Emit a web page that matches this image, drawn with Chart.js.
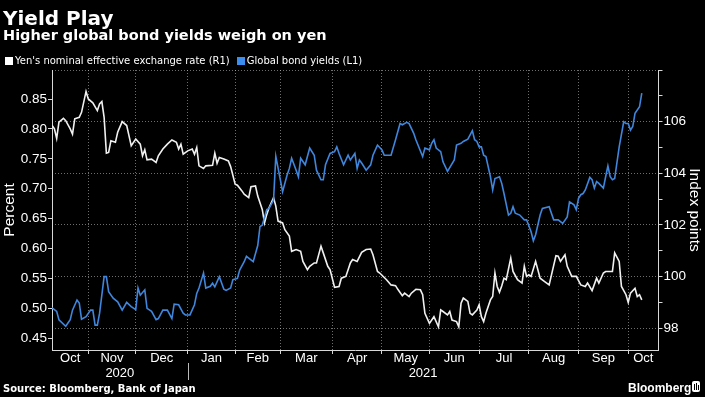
<!DOCTYPE html>
<html><head><meta charset="utf-8">
<script src="https://cdn.jsdelivr.net/npm/chart.js"></script>
<style>
html,body{margin:0;padding:0;background:#000;}
#wrap{position:relative;width:705px;height:397px;background:#000;overflow:hidden;}
#c{position:absolute;left:0;top:0;}
.t{position:absolute;white-space:nowrap;color:#fff;line-height:1;}
#legend{position:absolute;left:5px;top:56px;display:flex;align-items:center;font:10px 'DejaVu Sans',sans-serif;color:#fff;line-height:1;white-space:nowrap;}
#legend .it{display:flex;align-items:center;margin-right:7px;}
#legend .sq{width:8px;height:8px;margin-right:2px;}
#logo{position:absolute;left:692px;top:381px;width:8px;height:11px;background:#fff;border-radius:2px;}
#logo i{position:absolute;top:3px;width:1px;height:6px;background:#000;}
</style></head><body>
<div id="wrap">
<canvas id="c" width="705" height="397"></canvas>
<div class="t" style="left:3px;top:6px;font:bold 20px 'DejaVu Sans',sans-serif;">Yield Play</div>
<div class="t" style="left:3px;top:27px;font:bold 14.5px 'DejaVu Sans',sans-serif;">Higher global bond yields weigh on yen</div>
<div id="legend"></div>
<div class="t" style="left:3px;top:382.5px;font:bold 10px 'DejaVu Sans',sans-serif;">Source: Bloomberg, Bank of Japan</div>
<div class="t" style="left:628px;top:381px;font:bold 12px 'Liberation Sans',Arial,sans-serif;">Bloomberg</div>
<div id="logo"><i style="left:2px"></i><i style="left:4px;top:2px;height:7px"></i><i style="left:6px;top:4px;height:5px"></i></div>
</div>
<script>
// x values are trading-day indices counted from 1 Oct 2020 (= 0)
const yenDays = [6,7,8,9,11,12,14,15,16,18,19,21,22,24,26,27,28,29,30,31,32,34,35,37,39,40,41,43,45,46,47,48,50,52,53,55,57,59,61,62,63,64,66,68,69,70,71,73,74,77,78,79,80,82,84,85,87,88,90,91,93,94,96,97,99,100,101,102,104,105,106,108,109,111,112,114,116,117,119,120,122,123,125,126,128,129,131,133,134,136,137,138,139,141,143,145,147,148,150,151,154,156,158,159,161,162,164,165,167,169,170,171,173,175,177,178,179,181,182,183,185,186,187,188,190,191,192,194,195,196,197,198,200,201,202,203,204,205,206,207,209,210,212,214,215,216,217,218,220,222,224,226,229,230,231,233,234,236,238,240,242,243,245,247,248,250,251,254,255,257,258,260,261,262,264,265,266,267];
const yenValues = [105.85,105.72,105.35,105.98,106.13,106.04,105.72,105.52,106.11,106.17,106.36,107.17,106.88,106.73,106.43,106.69,106.78,106.17,104.78,104.81,105.26,105.2,105.59,106.0,105.85,105.46,105.07,105.33,105.13,104.68,104.91,104.52,104.55,104.42,104.68,104.94,105.13,105.29,105.2,104.94,105.13,104.74,104.87,104.94,104.74,105.0,104.29,104.19,104.29,104.31,104.78,104.39,104.61,104.55,104.48,104.26,103.58,103.54,103.32,103.19,103.06,103.48,103.51,103.12,102.6,102.08,102.41,102.67,103.06,102.73,102.15,102.08,101.82,101.57,100.98,101.05,100.98,100.59,100.27,100.4,100.53,100.53,101.18,100.92,100.4,100.27,99.59,99.62,99.94,100.01,100.27,100.53,100.66,100.59,100.94,101.05,101.07,100.85,100.2,100.14,99.88,99.68,99.65,99.51,99.26,99.36,99.23,99.36,99.51,99.49,99.3,98.58,98.19,98.45,98.06,98.71,98.65,98.52,98.65,98.32,98.26,98.06,98.97,99.17,99.04,98.58,98.52,98.71,98.91,98.45,98.26,98.58,99.1,99.23,100.14,99.62,99.4,99.64,99.94,99.88,100.72,100.2,99.88,99.75,100.4,100.01,100.07,100.01,100.59,99.94,99.81,99.68,100.81,100.79,100.59,100.85,100.4,100.01,100.01,99.68,99.62,99.75,99.46,99.94,99.75,100.14,100.2,100.2,100.92,100.59,99.62,99.3,99.0,99.36,99.55,99.23,99.3,99.1];

const yieldDays = [6,8,9,12,14,15,17,18,19,21,23,24,25,26,27,29,30,31,33,35,37,39,41,43,44,45,47,48,50,52,53,55,57,59,60,62,64,65,67,69,70,71,73,74,76,77,78,80,82,83,85,86,88,89,91,92,94,95,97,98,99,101,102,104,105,107,108,110,111,112,114,115,116,118,120,122,123,125,126,127,129,131,132,133,135,137,138,140,141,142,143,145,147,148,150,152,153,156,158,160,161,163,164,166,167,170,171,173,174,175,176,178,179,181,184,185,187,188,190,192,193,194,195,196,197,198,200,201,202,204,205,206,208,209,210,211,213,215,216,218,219,220,222,223,226,228,230,232,234,235,237,238,239,240,241,242,244,245,246,247,248,250,251,252,253,254,255,257,259,260,261,262,263,264,266,267];
const yieldValues = [0.501,0.495,0.481,0.470,0.481,0.497,0.514,0.509,0.482,0.486,0.497,0.497,0.472,0.472,0.492,0.553,0.553,0.528,0.517,0.511,0.497,0.510,0.503,0.498,0.534,0.522,0.531,0.500,0.495,0.481,0.483,0.497,0.497,0.483,0.507,0.506,0.492,0.489,0.489,0.506,0.525,0.534,0.559,0.534,0.537,0.542,0.536,0.553,0.532,0.530,0.534,0.548,0.550,0.564,0.578,0.587,0.581,0.578,0.605,0.637,0.639,0.665,0.667,0.681,0.754,0.715,0.695,0.723,0.734,0.751,0.731,0.720,0.751,0.740,0.768,0.756,0.731,0.715,0.715,0.740,0.759,0.762,0.770,0.759,0.740,0.756,0.748,0.759,0.734,0.748,0.743,0.731,0.740,0.756,0.773,0.765,0.756,0.756,0.782,0.809,0.807,0.811,0.809,0.793,0.782,0.754,0.768,0.765,0.776,0.782,0.768,0.762,0.745,0.729,0.748,0.773,0.776,0.779,0.783,0.797,0.782,0.779,0.770,0.770,0.756,0.754,0.720,0.698,0.717,0.720,0.709,0.692,0.656,0.659,0.670,0.659,0.656,0.648,0.648,0.628,0.613,0.623,0.656,0.667,0.670,0.648,0.648,0.642,0.653,0.678,0.673,0.665,0.684,0.690,0.692,0.698,0.719,0.715,0.701,0.712,0.709,0.701,0.720,0.738,0.720,0.715,0.717,0.770,0.812,0.809,0.809,0.798,0.804,0.826,0.837,0.860];

// first trading day of each month, Nov 2020 .. Oct 2021
const monthStarts = [22,43,66,87,107,130,152,173,195,217,239,261];
const monthNames = ['Oct','Nov','Dec','Jan','Feb','Mar','Apr','May','Jun','Jul','Aug','Sep','Oct'];
const yearNames = ['2020','2021'];
const yearStartIndex = 2; // monthStarts[2] = Jan 2021

const X_MIN = 5.93, X_MAX = 274.4;
const L_MIN = 0.4304, L_MAX = 0.8985;
const R_MIN = 97.16, R_MAX = 108;

const bounds = [X_MIN, ...monthStarts, X_MAX];
const monthMids = monthNames.map((n, i) => (bounds[i] + bounds[i + 1]) / 2);
const yearBreak = monthStarts[yearStartIndex];
const yearMids = [(X_MIN + yearBreak) / 2, (yearBreak + X_MAX) / 2];

const WHITE = '#f0f0f0', BLUE = '#3f86dc';
const GRID = 'rgba(200,200,200,0.55)';
const AXIS = '#d8d8d8';
Chart.defaults.font.family = "'Liberation Sans', Arial, sans-serif";
Chart.defaults.color = '#fff';

const isBoundary = v => monthStarts.some(m => Math.abs(m - v) < 1e-6);

const sepPlugin = {
  id: 'yearSep',
  afterDraw(chart) {
    const xs = chart.scales.x, ys = chart.scales.xYear, ctx = chart.ctx;
    const px = Math.round(xs.getPixelForValue(yearBreak)) + 0.5;
    ctx.save();
    ctx.strokeStyle = '#bbb'; ctx.lineWidth = 1;
    ctx.beginPath(); ctx.moveTo(px, ys.top - 3); ctx.lineTo(px, ys.bottom - 1); ctx.stroke();
    ctx.restore();
  }
};

const chart = new Chart(document.getElementById('c'), {
  type: 'line',
  data: {
    datasets: [
      { label: "Yen's nominal effective exchange rate (R1)",
        data: yenDays.map((d, i) => ({ x: d, y: yenValues[i] })),
        xAxisID: 'x', yAxisID: 'yR', borderColor: WHITE, backgroundColor: WHITE,
        borderWidth: 1.6, pointRadius: 0, tension: 0, order: 1 },
      { label: 'Global bond yields (L1)',
        data: yieldDays.map((d, i) => ({ x: d, y: yieldValues[i] })),
        xAxisID: 'x', yAxisID: 'yL', borderColor: BLUE, backgroundColor: BLUE,
        borderWidth: 1.6, pointRadius: 0, tension: 0, order: 0 }
    ]
  },
  options: {
    responsive: false, animation: false, devicePixelRatio: 1,
    layout: { padding: { top: 70, left: 0, right: 0, bottom: 16 } },
    plugins: { legend: { display: false }, tooltip: { enabled: false } },
    scales: {
      x: {
        type: 'linear', position: 'bottom', min: X_MIN, max: X_MAX, weight: 0,
        afterFit(s) { s.height = 16; },
        afterBuildTicks(s) { s.ticks = [...monthStarts, ...monthMids].sort((a, b) => a - b).map(v => ({ value: v })); },
        ticks: {
          autoSkip: false, maxRotation: 0, minRotation: 0, color: '#fff', padding: -2,
          font: { size: 13, lineHeight: 1 },
          callback(v) { const i = monthMids.findIndex(m => Math.abs(m - v) < 1e-6); return i >= 0 ? monthNames[i] : ''; }
        },
        grid: {
          color: c => (c.tick && isBoundary(c.tick.value)) ? GRID : 'transparent',
          tickColor: c => (c.tick && isBoundary(c.tick.value)) ? AXIS : 'transparent',
          tickLength: 4, lineWidth: 1
        },
        border: { display: true, color: AXIS, width: 1, dash: [1, 2] }
      },
      xYear: {
        type: 'linear', position: 'bottom', min: X_MIN, max: X_MAX, weight: 1,
        afterFit(s) { s.height = 15; },
        afterBuildTicks(s) { s.ticks = yearMids.map(v => ({ value: v })); },
        ticks: {
          autoSkip: false, maxRotation: 0, minRotation: 0, color: '#fff', padding: 1,
          font: { size: 13, lineHeight: 1 },
          callback(v) { const i = yearMids.findIndex(m => Math.abs(m - v) < 1e-6); return i >= 0 ? yearNames[i] : ''; }
        },
        grid: { display: false, drawTicks: false, drawOnChartArea: false },
        border: { display: false }
      },
      yL: {
        type: 'linear', position: 'left', min: L_MIN, max: L_MAX,
        afterFit(s) { s.width = 52; },
        afterBuildTicks(s) { const t = []; for (let i = 18; i <= 35; i++) t.push({ value: i * 0.025 }); s.ticks = t; },
        ticks: {
          color: '#fff', padding: 1, font: { size: 13.5 },
          callback(v) { const k = Math.round(v / 0.025); return k % 2 === 0 ? (k * 0.025).toFixed(2) : ''; }
        },
        grid: { drawOnChartArea: false, tickColor: AXIS, tickLength: 4 },
        border: { display: true, color: AXIS },
        title: { display: true, text: 'Percent', color: '#fff', font: { size: 15.5 }, padding: { top: 0, bottom: 0 } }
      },
      yR: {
        type: 'linear', position: 'right', min: R_MIN, max: R_MAX,
        afterFit(s) { s.width = 46.5; },
        afterBuildTicks(s) { const t = []; for (let v = 98; v <= 108; v++) t.push({ value: v }); s.ticks = t; },
        ticks: {
          color: '#fff', padding: 1, font: { size: 13.5 },
          callback(v) { return (v % 2 === 0 && v <= 106) ? String(v) : ''; }
        },
        grid: {
          color: c => (c.tick && c.tick.value % 2 === 0) ? GRID : 'transparent',
          tickColor: AXIS, tickLength: 4, lineWidth: 1
        },
        border: { display: true, color: AXIS, dash: [1, 2] },
        title: { display: true, text: 'Index points', color: '#fff', font: { size: 15.5 }, padding: { top: 1, bottom: 0 } }
      }
    }
  },
  plugins: [sepPlugin]
});

// legend built from the chart's datasets
const leg = document.getElementById('legend');
chart.data.datasets.forEach(ds => {
  const it = document.createElement('span'); it.className = 'it';
  const sq = document.createElement('span'); sq.className = 'sq';
  sq.style.background = ds.label.startsWith('Global') ? '#3b8ef0' : '#fff';
  const tx = document.createElement('span'); tx.textContent = ds.label;
  it.appendChild(sq); it.appendChild(tx); leg.appendChild(it);
});
</script>
</body></html>
